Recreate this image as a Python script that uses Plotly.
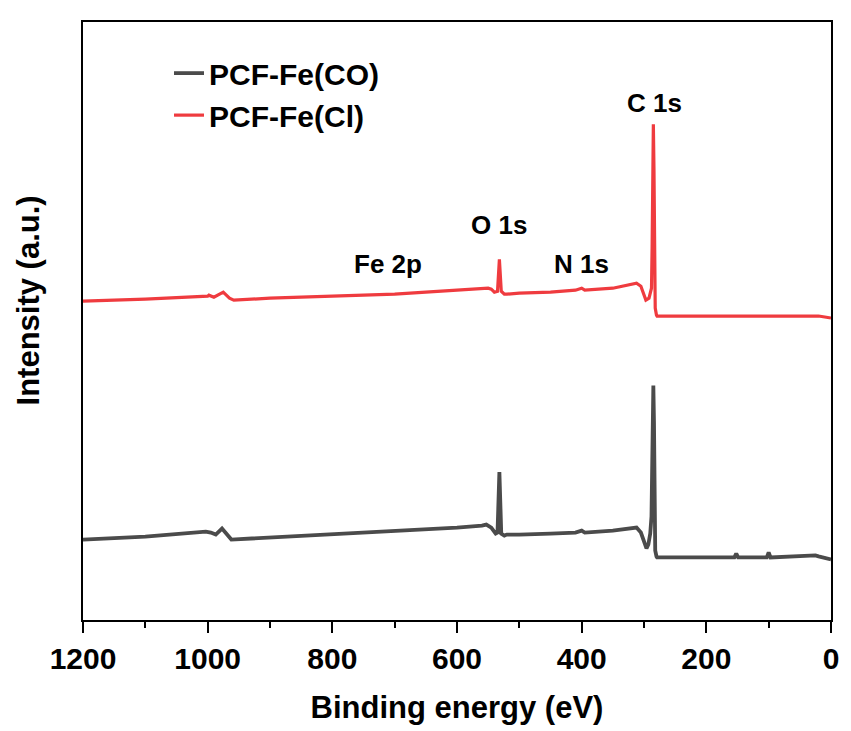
import plotly.graph_objects as go

# Binding energy (eV) and intensity (a.u.)
energy_cl = [1200, 1100, 1000, 998, 990, 975, 965, 958, 900, 800, 700, 600, 560, 550, 545,
             540, 535, 532, 529, 524, 520, 500, 450, 410, 400, 395, 350, 320, 312, 305,
             297, 292, 288, 287, 286, 285, 284, 283, 282, 280, 279, 270, 200, 100, 50, 20, 10, 0]
intensity_cl = [321, 323, 326, 327, 325, 330, 324, 322, 324, 326, 328, 332, 334, 334, 333,
                330, 331, 363, 331, 328, 328, 329, 330, 332, 334, 332, 334, 338, 339, 336,
                322, 324, 334, 374, 444, 499, 454, 364, 314, 307, 306, 306, 306, 306, 306, 306, 305, 304]

energy_co = [1200, 1100, 1003, 995, 987, 977, 962, 900, 800, 700, 600, 560, 553, 545, 538,
             535, 532, 529, 524, 520, 500, 450, 410, 400, 395, 350, 320, 312, 305, 300,
             296, 293, 290, 288, 287, 286, 285, 284, 283, 282, 280, 279, 275, 200, 155,
             152, 149, 103, 100, 97, 30, 25, 20, 5, 0]
intensity_co = [81, 84, 89, 88, 86, 92, 81, 83, 86, 89, 93, 95, 96, 93, 87,
                88, 149, 87, 85, 86, 86, 87, 88, 90, 88, 90, 92, 93, 88, 79,
                72, 76, 87, 104, 150, 200, 236, 200, 120, 70, 64, 63, 63, 63, 63,
                67, 63, 63, 68, 63, 64, 65, 64, 62, 61]

peak_labels = ["C 1s", "O 1s", "N 1s", "Fe 2p"]
peak_x = [283, 532, 400, 710]
peak_y = [520, 398, 358, 358]

x_ticks = [1200, 1000, 800, 600, 400, 200, 0]

FONT = "Liberation Sans, Arial, sans-serif"

fig = go.Figure()
fig.add_trace(go.Scatter(x=energy_co, y=intensity_co, mode="lines", name="<b>PCF-Fe(CO)</b>",
                         legendgroup="a", line=dict(color="#4B4B4B", width=3.8)))
fig.add_trace(go.Scatter(x=energy_cl, y=intensity_cl, mode="lines", name="<b>PCF-Fe(Cl)</b>",
                         legendgroup="b", line=dict(color="#EF3B3F", width=3.2)))

for t, xv, yv in zip(peak_labels, peak_x, peak_y):
    fig.add_annotation(x=xv, y=yv, text="<b>%s</b>" % t, showarrow=False,
                       font=dict(family=FONT, size=26, color="black"))

fig.add_annotation(xref="paper", yref="paper", x=-0.073, y=0.535, xanchor="center", yanchor="middle",
                   text="<b>Intensity (a.u.)</b>",
                   textangle=-90, showarrow=False, font=dict(family=FONT, size=31, color="black"))

fig.update_layout(
    width=851, height=731,
    margin=dict(l=83, r=13, t=22, b=107),
    paper_bgcolor="white", plot_bgcolor="white",
    font=dict(family=FONT, color="black"),
    showlegend=True,
    legend=dict(x=0.115, y=0.958, xanchor="left", yanchor="top", bgcolor="rgba(0,0,0,0)",
                font=dict(family=FONT, size=30, color="black"), traceorder="grouped",
                tracegroupgap=0, itemwidth=30),
    xaxis=dict(range=[1200, 0], tickvals=x_ticks, ticktext=["<b>%d</b>" % v for v in x_ticks],
               ticks="outside", ticklen=11, tickwidth=2, tickcolor="black",
               minor=dict(dtick=100, ticks="outside", ticklen=6, tickwidth=2, tickcolor="black"),
               showline=True, linewidth=2, linecolor="black", mirror=True,
               showgrid=False, zeroline=False,
               tickfont=dict(family=FONT, size=30, color="black"),
               title=dict(text="<b>Binding energy (eV)</b>", font=dict(family=FONT, size=31, color="black"),
                          standoff=22)),
    yaxis=dict(range=[0, 602], showticklabels=False, ticks="", showline=True, linewidth=2,
               linecolor="black", mirror=True, showgrid=False, zeroline=False),
)

fig.write_html("out.html", config={"displayModeBar": False},
               post_script="document.body.style.margin='0px';")
